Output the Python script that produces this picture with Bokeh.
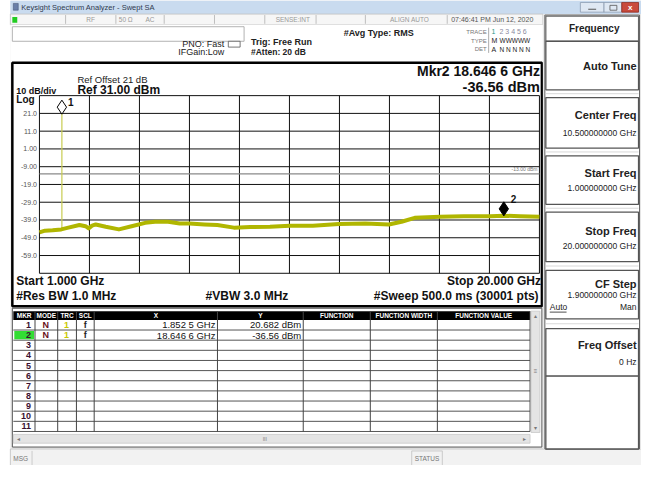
from bokeh.plotting import figure
from bokeh.models import Range1d, Label
from bokeh.core.properties import value
from bokeh.embed import file_html
from bokeh.resources import INLINE
import numpy as np

# ---------------- data ----------------
start_ghz = 1.0
stop_ghz = 20.0
ref_dbm = 31.0
db_per_div = 10.0
n_div = 10

trace_freq = [1.0, 1.21, 1.5, 1.83, 2.1, 2.52, 2.75, 2.87, 3.0, 3.14, 3.52, 4.02, 4.5, 5.02,
              5.39, 5.89, 6.33, 6.7, 7.27, 7.76, 8.39, 9.01, 9.76, 10.51, 11.39, 12.38, 13.39,
              14.28, 14.76, 15.26, 16.22, 17.13, 18.13, 18.65, 19.26, 20.0]
trace_dbm = [-46.0, -45.0, -44.8, -44.3, -43.3, -41.8, -42.5, -43.7, -42.2, -41.5, -42.8, -44.3,
             -42.5, -40.6, -40.0, -40.0, -41.0, -41.0, -41.5, -41.8, -43.3, -43.0, -42.8, -42.2,
             -42.2, -41.3, -41.0, -41.5, -40.0, -37.8, -37.2, -36.9, -36.9, -36.6, -36.9, -37.2]

mkr_ids = ["1", "2"]
mkr_freq = [1.8525, 18.6466]
mkr_dbm = [20.682, -36.56]
mkr_x_text = ["1.852 5 GHz", "18.646 6 GHz"]
mkr_y_text = ["20.682 dBm", "-36.56 dBm"]

display_line_dbm = -13.0
ytick_vals = [21.0, 11.0, 1.0, -9.0, -19.0, -29.0, -39.0, -49.0, -59.0]
ytick_labels = ["21.0", "11.0", "1.00", "-9.00", "-19.0", "-29.0", "-39.0", "-49.0", "-59.0"]

table_cols = ["MKR", "MODE", "TRC", "SCL", "X", "Y", "FUNCTION", "FUNCTION WIDTH", "FUNCTION VALUE"]
table_rows = [str(i) for i in range(1, 12)]

softkeys = [("Auto Tune", ""), ("Center Freq", "10.500000000 GHz"), ("Start Freq", "1.000000000 GHz"),
            ("Stop Freq", "20.000000000 GHz"), ("CF Step", "1.900000000 GHz"), ("Freq Offset", "0 Hz")]

# ---------------- layout (reference pixel frame) ----------------
FONT = "Liberation Sans"
GL, GR, GT, GB = 39.5, 546.5, 98.0, 281.0   # grid box in reference px
XV0, XV1, YV0, YV1 = 0.0, 650.0, 479.0, 0.0


def fx(x):
    return start_ghz + (x - GL) / (GR - GL) * (stop_ghz - start_ghz)


def dy(y):
    return ref_dbm - (y - GT) / (GB - GT) * (db_per_div * n_div)


p = figure(width=641, height=465, x_range=Range1d(XV0, XV1), y_range=Range1d(YV0, YV1),
           output_backend="svg", toolbar_location=None, min_border=0,
           x_axis_location=None, y_axis_location=None, outline_line_color=None,
           background_fill_color="white", border_fill_color="white")
p.grid.visible = False
p.extra_x_ranges = {"freq": Range1d(fx(XV0), fx(XV1))}
p.extra_y_ranges = {"dbm": Range1d(dy(YV0), dy(YV1))}


def R(x0, y0, x1, y1, fill="white", line=None, lw=1.0):
    p.quad(left=x0, right=x1, top=y0, bottom=y1, fill_color=fill,
           line_color=line, line_width=lw)


def L(xs, ys, color="black", lw=1.0):
    p.line(xs, ys, line_color=color, line_width=lw)


def T(x, y, s, size=8, bold=False, color="black", align="left", font=FONT):
    p.add_layout(Label(x=x, y=y, text=s, text_font=font, text_font_size=f"{size}px",
                       text_font_style="bold" if bold else "normal", text_color=color,
                       text_align=align, text_baseline="middle"))


# window background
R(10, 0, 650, 481, fill="#ececec")
# title bar
R(10, 0, 650, 14, fill="#c9dbef")
R(13, 3, 18, 10, fill="#6a7fa8", line="#3a4a6a", lw=0.5)
T(21, 7, "Keysight Spectrum Analyzer - Swept SA", 7.5, color="#303a50")
R(588, 2, 612, 12, fill="#dfe8f3", line="#8a9ab0", lw=0.8)
R(612, 2, 630, 12, fill="#dfe8f3", line="#8a9ab0", lw=0.8)
R(630, 2, 647, 12, fill="#c94a3c", line="#8a2a20", lw=0.8)
L([596, 604], [9, 9], "#555", 1)
R(618, 5, 625, 10, fill=None, line="#555", lw=0.8)
T(638.5, 7, "x", 8, True, "white", "center")

# status row
R(10, 14, 550, 25, fill="#f6f6f6", line="#c0c0c0", lw=0.8)
R(12, 17, 17, 23, fill="#22cc22", line=None)
for sx in [66, 117, 166, 217, 268, 320, 370, 453]:
    L([sx, sx], [15, 24], "#b0b0b0", 0.8)
T(87, 20, "RF", 6.5, color="#999999")
T(120, 20, "50 Ω", 6.5, color="#999999")
T(147, 20, "AC", 6.5, color="#999999")
T(279, 20, "SENSE:INT", 6.5, color="#999999")
T(395, 20, "ALIGN AUTO", 6.5, color="#999999")
T(457, 20, "07:46:41 PM Jun 12, 2020", 7, color="#555555")

# header area
R(10, 25, 550, 63, fill="white")
R(12, 27, 247, 42, fill="white", line="#a0a0a0", lw=0.8)
T(227, 45, "PNO: Fast", 9, align="right", color="#222")
T(227, 53.5, "IFGain:Low", 9, align="right", color="#222")
R(231, 42, 243, 48, fill="white", line="#555", lw=0.8)
T(254, 43, "Trig: Free Run", 9, True, color="#222")
T(254, 53.5, "#Atten: 20 dB", 8.5, True, color="#222")
T(348, 33, "#Avg Type: RMS", 9, True, color="#222")
T(493, 32, "TRACE", 6, align="right", color="#777")
T(493, 41.5, "TYPE", 6, align="right", color="#777")
T(493, 50, "DET", 6, align="right", color="#777")
L([495, 495], [28, 54], "#999", 0.8)
T(498, 32, "1", 7, color="#2a9a8a")
T(506, 32, "2 3 4 5 6", 7, color="#8a8aa0")
T(498, 41.5, "M", 7, color="#222")
T(506, 41.5, "WWWWW", 6.5, color="#222")
T(498, 50, "A", 7, color="#222")
T(506, 50, "N N N N N", 6.5, color="#222")

# main plot panel
R(12, 64, 549, 315, fill="white", line="black", lw=2.5)
T(78, 81, "Ref Offset 21 dB", 9.5, color="#222")
T(78, 92, "Ref 31.00 dBm", 12, True, color="#111")
T(16, 93, "10 dB/div", 9, True, color="#111")
T(16, 101.5, "Log", 10, True, color="#111")
T(547, 73, "Mkr2 18.646 6 GHz", 14, True, color="#111", align="right")
T(547, 89, "-36.56 dBm", 14.5, True, color="#111", align="right")
T(16, 289, "Start 1.000 GHz", 12, True, color="#111")
T(16, 304, "#Res BW 1.0 MHz", 12, True, color="#111")
T(208, 304, "#VBW 3.0 MHz", 12, True, color="#111")
T(548, 289, "Stop 20.000 GHz", 12, True, color="#111", align="right")
T(549, 304, "#Sweep  500.0 ms (30001 pts)", 12, True, color="#111", align="right")

# grid (through the frequency / dBm scales)
gx = [start_ghz + k * (stop_ghz - start_ghz) / n_div for k in range(n_div + 1)]
gy = [ref_dbm - k * db_per_div for k in range(n_div + 1)]
p.segment(x0=gx, x1=gx, y0=[gy[-1]] * len(gx), y1=[gy[0]] * len(gx), x_range_name="freq",
          y_range_name="dbm", line_color="#111", line_width=1)
p.segment(x0=[start_ghz] * len(gy), x1=[stop_ghz] * len(gy), y0=gy, y1=gy, x_range_name="freq",
          y_range_name="dbm", line_color="#111", line_width=1)
p.text(x=[37] * len(ytick_vals), y=ytick_vals, text=ytick_labels, y_range_name="dbm",
       text_font=value(FONT), text_font_size="7px", text_color="#555", text_align="right",
       text_baseline="middle")

# display line
p.segment(x0=[start_ghz], x1=[stop_ghz], y0=[display_line_dbm], y1=[display_line_dbm],
          x_range_name="freq", y_range_name="dbm", line_color="#8a8a8a", line_width=1.2)
p.text(x=[stop_ghz], y=[display_line_dbm], text=["-13.00 dBm"], x_range_name="freq",
       y_range_name="dbm", text_font=value(FONT), text_font_size="5px", text_color="#777",
       text_align="right", text_baseline="bottom", x_offset=-2, y_offset=-2)

# trace
base = float(np.interp(mkr_freq[0], trace_freq, trace_dbm))
p.segment(x0=[mkr_freq[0]], x1=[mkr_freq[0]], y0=[base], y1=[mkr_dbm[0]], x_range_name="freq",
          y_range_name="dbm", line_color="#c8cc50", line_width=1.2)
p.line(trace_freq, trace_dbm, x_range_name="freq", y_range_name="dbm",
       line_color="#b0b600", line_width=4, line_join="round")

# markers (diamond tip sits on the marker point)
tip = 7.0 / (GB - GT) * (db_per_div * n_div)
p.scatter(x=[mkr_freq[0]], y=[mkr_dbm[0] + tip], marker="diamond", size=14,
          fill_color="white", line_color="black", line_width=1, x_range_name="freq",
          y_range_name="dbm")
p.scatter(x=[mkr_freq[1]], y=[mkr_dbm[1] + tip], marker="diamond", size=14,
          fill_color="black", line_color="black", line_width=1, x_range_name="freq",
          y_range_name="dbm")
p.text(x=mkr_freq, y=mkr_dbm, text=mkr_ids, x_range_name="freq", y_range_name="dbm",
       text_font=value(FONT), text_font_size="10px", text_font_style="bold", text_color="#111",
       text_baseline="middle", x_offset=[6, 7], y_offset=[-12, -17])

# marker table
R(12, 317, 549, 460, fill="white", line="#555", lw=1)
col_edges = [13, 35, 58, 77, 95, 220, 307, 375, 443, 537]
R(13, 320, 537, 329, fill="black")
for i, name in enumerate(table_cols):
    cx = (col_edges[i] + col_edges[i + 1]) / 2
    T(cx, 324.5, name, 6.5, True, "white", "center")
row_top = 329.0
row_h = 10.45
for i, rid in enumerate(table_rows):
    yc = row_top + (i + 0.5) * row_h
    L([13, 537], [row_top + (i + 1) * row_h] * 2, "#555", 1)
    if i == 1:
        R(14, row_top + i * row_h + 1, 34, row_top + (i + 1) * row_h - 1, fill="#33dd33")
    T(31, yc, rid, 9, True, "#3a1030", "right")
for cxe in col_edges[1:]:
    L([cxe, cxe], [320, row_top + 11 * row_h], "#444", 1)
for i in range(len(mkr_ids)):
    yc = row_top + (i + 0.5) * row_h
    T(46, yc, "N", 9, True, "#6a1020", "center")
    T(67, yc, "1", 9, True, "#c8c800", "center")
    T(86, yc, "f", 9, True, "#222", "center")
    T(218, yc, mkr_x_text[i], 9.5, False, "#111", "right")
    T(305, yc, mkr_y_text[i], 9.5, False, "#111", "right")
# scrollbars
R(538, 320, 547, 445, fill="#e4e4e4", line="#c8c8c8", lw=0.8)
T(542.5, 325, "▴", 6, color="#777", align="center")
T(542.5, 382, "≡", 6, color="#777", align="center")
T(542.5, 440, "▾", 6, color="#777", align="center")
R(13, 447, 537, 456, fill="#e4e4e4", line="#c8c8c8", lw=0.8)
T(17, 451.5, "◂", 6, color="#777")
T(268, 451.5, "III", 5, color="#777", align="center")
T(533, 451.5, "▸", 6, color="#777", align="right")

# message bar
R(10, 462, 650, 481, fill="#f2f2f2", line="#c0c0c0", lw=0.8)
T(13, 472, "MSG", 6.5, color="#777")
L([32, 32], [464, 481], "#c0c0c0", 0.8)
R(417, 464, 448, 481, fill="#f2f2f2", line="#c0c0c0", lw=0.8)
T(432.5, 472, "STATUS", 6.5, color="#777", align="center")

# soft key panel
R(550, 14, 650, 462, fill="#e8e8e8")
R(552, 15, 648, 462, fill="white", line="#666", lw=1)
R(553, 16, 647, 42, fill="white", line="#666", lw=1.2)
T(602, 28.5, "Frequency", 10, True, "#222", "center")
key_boxes = [(42, 92), (100, 152), (160, 210), (218, 269), (278, 328), (338, 387)]
key_text_y = [(67, None), (118, 137), (178, 193), (237, 253), (292, 303), (355, 372)]
for (k0, k1), (title, sub), (ty, sy) in zip(key_boxes, softkeys, key_text_y):
    R(553, k0, 647, k1, fill="white", line="#555", lw=1.3)
    T(645, ty, title, 11, True, "#222", "right")
    if sub:
        T(645, sy, sub, 8.5, False, "#222", "right")
for (a0, a1), (b0, b1) in zip(key_boxes[:-1], key_boxes[1:]):
    L([553, 647], [(a1 + b0) / 2] * 2, "#d8d8d8", 1)
# CF Step extras
T(557, 316, "Auto", 8.5, False, "#222")
L([557, 574], [321, 321], "#222", 0.8)
T(645, 316, "Man", 8.5, False, "#222", "right")
R(553, 387, 647, 462, fill="white", line="#555", lw=1.3)

open("out.html", "w").write(file_html(p, INLINE))
